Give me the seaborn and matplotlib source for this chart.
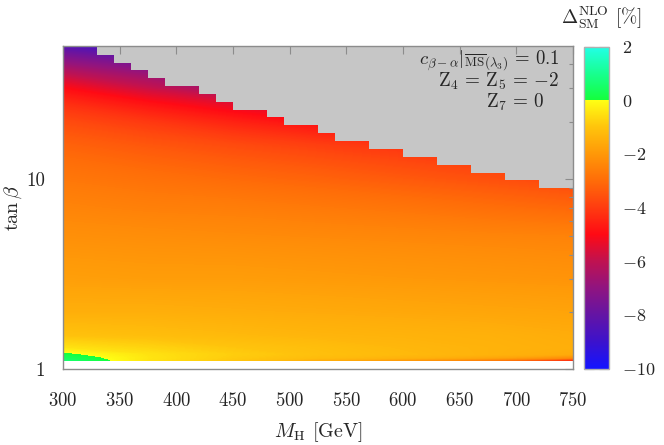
import numpy as np
import pandas as pd
import seaborn as sns
import matplotlib.pyplot as plt
import matplotlib.ticker as mticker
from matplotlib.colors import LinearSegmentedColormap, Normalize
from matplotlib.cm import ScalarMappable

# grid nodes
mh = [300, 375, 450, 525, 600, 675, 750]
tanb = [1.11, 1.15, 1.2, 1.3, 1.5, 2, 3, 5, 7, 10, 15, 20, 25, 30, 40, 50]

# Delta_SM^NLO [%] at (tanb row, mh column)
delta_nlo = [
    [0.6, -0.5, -1.0, -1.6, -2.1, -2.8, -4.8],
    [0.35, -0.45, -0.9, -1.2, -1.4, -1.7, -2.3],
    [0.08, -0.5, -0.85, -1.1, -1.25, -1.4, -1.6],
    [-0.5, -0.75, -1.0, -1.15, -1.3, -1.4, -1.5],
    [-1.05, -1.15, -1.25, -1.35, -1.4, -1.45, -1.55],
    [-1.5, -1.5, -1.55, -1.6, -1.65, -1.7, -1.75],
    [-1.85, -1.9, -1.9, -1.95, -2.0, -2.05, -2.1],
    [-2.2, -2.25, -2.3, -2.35, -2.4, -2.45, -2.5],
    [-2.45, -2.55, -2.6, -2.7, -2.8, -2.95, -3.1],
    [-2.75, -2.9, -3.05, -3.2, -3.4, -3.6, -3.85],
    [-3.2, -3.45, -3.7, -3.95, -4.2, -4.45, -4.7],
    [-3.7, -4.1, -4.55, -5.0, -5.4, -5.8, -6.2],
    [-4.3, -4.9, -5.5, -6.1, -6.6, -7.1, -7.6],
    [-5.0, -5.9, -6.7, -7.3, -7.9, -8.4, -8.9],
    [-6.8, -7.5, -8.2, -8.8, -9.3, -9.6, -9.9],
    [-8.4, -9.1, -9.7, -10.0, -10.0, -10.0, -10.0],
]

# upper edge of the valid region (grey above)
mh_steps = [300, 330, 345, 360, 375, 390, 420, 435, 450, 480, 495,
            525, 540, 570, 600, 630, 660, 690, 720, 750]
tb_max = [50, 44.8, 40.8, 37.3, 33.8, 30.8, 27.9, 25.4, 23.1, 21.1, 19.2,
          17.4, 15.8, 14.4, 13.05, 11.9, 10.8, 9.88, 8.97, 8.97]

sns.set_style('white')
plt.rcParams['font.family'] = 'serif'
plt.rcParams['font.serif'] = ['cmr10', 'DejaVu Serif']
plt.rcParams['mathtext.fontset'] = 'cm'
plt.rcParams['axes.formatter.use_mathtext'] = True
plt.rcParams['axes.unicode_minus'] = True

df = pd.DataFrame(delta_nlo, index=tanb, columns=mh)

stops = [(-10, '#1414ff'), (-9, '#3c12cc'), (-8, '#6414a4'), (-7, '#901480'),
         (-6, '#c01250'), (-5, '#ff0a14'), (-4, '#ff3c10'), (-3, '#ff6c08'),
         (-2, '#ff9808'), (-1, '#ffc40c'), (-0.001, '#ffff14'),
         (0.001, '#14ff3c'), (1, '#18ff90'), (2, '#22ffe8')]
cmap = LinearSegmentedColormap.from_list(
    'nlo', [((v + 10) / 12, c) for v, c in stops], N=1024)
norm = Normalize(vmin=-10, vmax=2)

fig = plt.figure(figsize=(6.64, 4.45), dpi=100)
ax = fig.add_axes([63 / 664, 1 - 369.3 / 445, 510 / 664, 323.3 / 445])
cax = fig.add_axes([584 / 664, 1 - 368.5 / 445, 25 / 664, 322 / 445])

ax.contourf(df.columns.values, df.index.values, df.values,
            levels=np.linspace(-10, 2, 481), cmap=cmap, norm=norm,
            extend='both', zorder=1)
ax.fill_between(mh_steps, tb_max, 50, step='post', color='#c6c6c6',
                linewidth=0, zorder=1.2)

ax.set_yscale('log')
ax.set_xlim(300, 750)
ax.set_ylim(1, 50)
ax.set_axisbelow(False)
ax.xaxis.set_major_locator(mticker.MultipleLocator(50))
ax.yaxis.set_major_locator(mticker.FixedLocator([1, 10]))
ax.yaxis.set_major_formatter(mticker.FixedFormatter(['1', '10']))
ax.yaxis.set_minor_locator(mticker.FixedLocator([2, 3, 4, 5, 6, 7, 8, 9, 20, 30, 40]))
ax.yaxis.set_minor_formatter(mticker.NullFormatter())
ax.tick_params(which='both', direction='in', top=True, right=True,
               color='#8c8c8c', labelsize=13.5)
ax.tick_params(axis='x', pad=16)
ax.tick_params(axis='y', pad=13)
ax.tick_params(which='major', length=6, width=0.8)
ax.tick_params(which='minor', length=2.8, width=0.8)
for s in ax.spines.values():
    s.set_color('#8c8c8c')
    s.set_linewidth(1.0)

ax.set_xlabel(r'$M_{\mathrm{H}}$ [GeV]', fontsize=14.5)
ax.set_ylabel(r'$\tan\beta$', fontsize=14.5)
ax.xaxis.set_label_coords(0.5, -0.158)
ax.yaxis.set_label_coords(-0.077, 0.5)

tr = ax.get_xaxis_transform()
ax.text(738.5, 0.945,
        r'$c_{\beta-\alpha}|_{\overline{\mathrm{MS}}(\lambda_3)}\,=\,0.1$',
        transform=tr, ha='right', va='baseline', fontsize=13.5)
ax.text(738, 0.874, r'$\mathrm{Z}_4\,=\,\mathrm{Z}_5\,=\,{-2}$',
        transform=tr, ha='right', va='baseline', fontsize=13.8)
ax.text(724.5, 0.810, r'$\mathrm{Z}_7\,=\,0$',
        transform=tr, ha='right', va='baseline', fontsize=13.8)

cb = fig.colorbar(ScalarMappable(norm=norm, cmap=cmap), cax=cax)
cb.set_ticks([2, 0, -2, -4, -6, -8, -10])
cb.ax.tick_params(direction='in', length=7, width=0.8, color='#8c8c8c',
                  labelsize=13, pad=9, left=True)
cb.outline.set_edgecolor('#b0b0b0')
cb.outline.set_linewidth(1.0)

fig.text(601, 445 - 18, r'$\Delta^{\mathrm{NLO}}_{\mathrm{SM}}$ [%]', fontsize=14,
         ha='center', va='center', transform=None)

fig.savefig('out.png', dpi=100)
